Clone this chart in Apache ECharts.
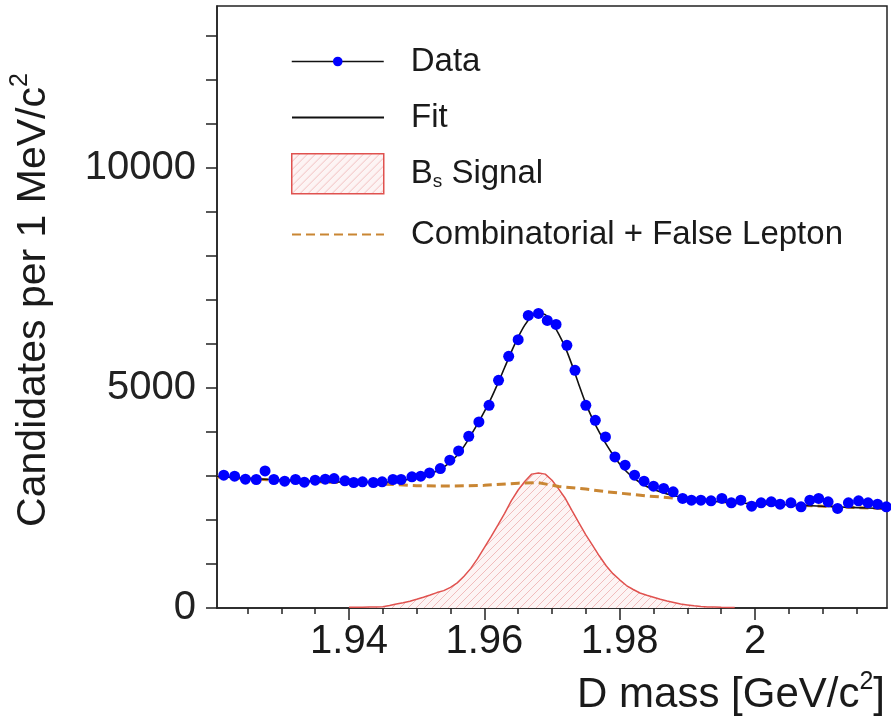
<!DOCTYPE html>
<html>
<head>
<meta charset="utf-8">
<script src="https://cdn.jsdelivr.net/npm/echarts@6/dist/echarts.min.js"></script>
<style>
html,body{margin:0;padding:0;background:#fff;}
#chart{width:891px;height:718px;}
</style>
</head>
<body>
<div id="chart"></div>
<script>
// ---- data ----
const dataMass = [1.9215,1.9231,1.9247,1.9263,1.9276,1.9289,1.9305,1.9321,1.9334,1.9350,1.9365,1.9378,1.9394,1.9407,1.9420,1.9436,1.9449,1.9465,1.9477,1.9493,1.9506,1.9519,1.9535,1.9549,1.9562,1.9577,1.9592,1.9607,1.9621,1.9636,1.9650,1.9665,1.9680,1.9693,1.9706,1.9722,1.9734,1.9750,1.9764,1.9779,1.9793,1.9808,1.9822,1.9836,1.9850,1.9865,1.9879,1.9893,1.9906,1.9920,1.9935,1.9951,1.9965,1.9979,1.9995,2.0009,2.0024,2.0037,2.0053,2.0068,2.0081,2.0094,2.0108,2.0122,2.0138,2.0153,2.0167,2.0181,2.0194];
const dataCounts = [3016,2993,2925,2918,3113,2918,2880,2918,2857,2902,2925,2940,2887,2850,2865,2850,2865,2918,2918,2978,2993,3068,3167,3356,3567,3900,4225,4603,5170,5714,6092,6644,6690,6530,6440,5964,5397,4603,4263,3885,3431,3243,3016,2880,2766,2714,2638,2487,2449,2449,2434,2487,2388,2449,2313,2388,2411,2358,2388,2297,2449,2487,2411,2260,2388,2434,2388,2358,2297];

const fitMass = [1.9205,1.925,1.930,1.935,1.940,1.944,1.947,1.950,1.952,1.953,1.954,1.955,1.956,1.957,1.958,1.959,1.960,1.961,1.962,1.963,1.964,1.965,1.966,1.967,1.968,1.969,1.970,1.971,1.972,1.973,1.974,1.975,1.976,1.977,1.978,1.979,1.980,1.981,1.982,1.983,1.984,1.985,1.987,1.989,1.991,1.994,1.997,2.000,2.005,2.010,2.015,2.0195];
const fitCounts = [2985,2945,2905,2875,2855,2850,2880,2960,3050,3110,3200,3320,3470,3670,3920,4180,4460,4760,5100,5460,5820,6150,6430,6620,6700,6660,6480,6220,5900,5500,5060,4640,4290,3990,3720,3480,3270,3100,2960,2850,2760,2690,2590,2520,2470,2420,2390,2370,2345,2310,2280,2255];

const bgMass = [1.9205,1.925,1.930,1.935,1.940,1.945,1.950,1.955,1.960,1.965,1.968,1.971,1.975,1.978,1.984,1.989,1.997,2.005,2.010,2.015,2.0195];
const bgCounts = [2975,2935,2900,2870,2840,2815,2775,2770,2785,2835,2845,2760,2700,2640,2545,2485,2390,2345,2310,2280,2255];

const sigMass = [1.940,1.941,1.942,1.943,1.944,1.945,1.946,1.947,1.948,1.949,1.950,1.951,1.952,1.953,1.954,1.955,1.956,1.957,1.958,1.959,1.960,1.961,1.962,1.963,1.964,1.965,1.966,1.967,1.968,1.969,1.970,1.971,1.972,1.973,1.974,1.975,1.976,1.977,1.978,1.979,1.980,1.981,1.982,1.983,1.984,1.985,1.986,1.987,1.988,1.989,1.990,1.991,1.992,1.993,1.994,1.995,1.996,1.997];
const sigCounts = [15,15,18,20,22,30,55,90,120,155,197,245,295,350,395,470,570,720,900,1120,1370,1620,1880,2150,2440,2680,2880,3040,3068,3040,2900,2700,2480,2200,1930,1660,1420,1180,960,780,640,510,420,340,290,245,200,160,125,90,70,50,35,25,20,15,12,10];

const xMajorTicks = [1.94, 1.96, 1.98, 2.00];
const xTickLabels = ['1.94', '1.96', '1.98', '2'];
const xMinorTicks = [1.925,1.930,1.935,1.945,1.950,1.955,1.965,1.970,1.975,1.985,1.990,1.995,2.005,2.010,2.015];
const yTicks = [0,1000,2000,3000,4000,5000,6000,7000,8000,9000,10000,11000,12000,13000];
const yLabelTicks = [0, 5000, 10000];
const seriesNames = ['Data', 'Fit', 'Bs Signal', 'Combinatorial + False Lepton'];

// ---- styling ----
const FONT = '"Liberation Sans", Arial, sans-serif';
const TXT = '#1a1a1a';
const RED = '#e0524f';
const ORANGE = '#c98633';

function hatch() {
  const c = document.createElement('canvas');
  c.width = 8; c.height = 8;
  const g = c.getContext('2d');
  g.fillStyle = '#fdf4f4';
  g.fillRect(0, 0, 8, 8);
  g.strokeStyle = '#f1bcbc';
  g.lineWidth = 1;
  g.beginPath();
  g.moveTo(0, 8); g.lineTo(8, 0);
  g.moveTo(-2, 2); g.lineTo(2, -2);
  g.moveTo(6, 10); g.lineTo(10, 6);
  g.stroke();
  return c;
}
const hatchPattern = { image: hatch(), repeat: 'repeat' };

const zip = (a, b) => a.map((v, i) => [v, b[i]]);
const yfmt = v => (yLabelTicks.indexOf(v) >= 0 ? String(v) : '');

const legendBase = {
  left: 286, orient: 'vertical', itemWidth: 92, selectedMode: false,
  textStyle: { fontSize: 33, fontFamily: FONT, color: TXT, padding: [0, 0, 0, 22],
    rich: { n: { fontSize: 33, fontFamily: FONT, color: TXT },
            sub: { fontSize: 19, fontFamily: FONT, color: TXT, padding: [16, 0, 0, 0] } } }
};

const option = {
  backgroundColor: '#ffffff',
  animation: false,
  grid: { left: 213, right: 4, top: 6, bottom: 110, show: true, borderColor: '#222', borderWidth: 1.5, backgroundColor: 'transparent' },
  legend: [
    Object.assign({}, legendBase, { top: 40, itemHeight: 12,
      data: [{ name: seriesNames[0], lineStyle: { color: '#111', width: 1.5, opacity: 1, type: 'solid' } }] }),
    Object.assign({}, legendBase, { top: 96, itemHeight: 12,
      data: [{ name: seriesNames[1], itemStyle: { opacity: 0 } }] }),
    Object.assign({}, legendBase, { top: 148, itemHeight: 40,
      formatter: () => '{n|B}{sub|s}{n| Signal}',
      data: [{ name: seriesNames[2], icon: 'rect',
        itemStyle: { color: hatchPattern, borderColor: RED, borderWidth: 1.5 } }] }),
    Object.assign({}, legendBase, { top: 213, itemHeight: 12,
      data: [{ name: seriesNames[3], itemStyle: { opacity: 0 } }] })
  ],
  xAxis: [
    {
      type: 'value', min: 1.9205, max: 2.0195, position: 'bottom',
      name: 'D mass [GeV/c{sup|2}]', nameLocation: 'end', nameGap: -2,
      nameTextStyle: { fontSize: 42, fontFamily: FONT, color: TXT, align: 'right', verticalAlign: 'top', padding: [62, 0, 0, 0],
        rich: { sup: { fontSize: 25, fontFamily: FONT, color: TXT, padding: [0, 0, 26, 0] } } },
      splitLine: { show: false },
      axisLine: { show: true, lineStyle: { color: '#222', width: 1.5 } },
      axisTick: { show: true, length: 12, customValues: xMajorTicks, lineStyle: { color: '#222', width: 1.5 } },
      axisLabel: { show: true, customValues: xMajorTicks, margin: 14, fontSize: 40, fontFamily: FONT, color: TXT,
        formatter: v => { const i = xMajorTicks.findIndex(t => Math.abs(t - v) < 1e-6); return i >= 0 ? xTickLabels[i] : ''; } }
    },
    {
      type: 'value', min: 1.9205, max: 2.0195, position: 'bottom',
      splitLine: { show: false },
      axisLine: { show: false },
      axisTick: { show: true, length: 6, customValues: xMinorTicks, lineStyle: { color: '#222', width: 1.5 } },
      axisLabel: { show: false }
    }
  ],
  yAxis: {
    type: 'value', min: 0, max: 13670,
    name: 'Candidates per 1 MeV/c{sup|2}', nameLocation: 'middle', nameGap: 158,
    nameTextStyle: { fontSize: 41, fontFamily: FONT, color: TXT, padding: [0, 0, 0, 14],
      rich: { sup: { fontSize: 25, fontFamily: FONT, color: TXT, padding: [0, 0, 26, 0] } } },
    splitLine: { show: false },
    axisLine: { show: true, lineStyle: { color: '#222', width: 1.5 } },
    axisTick: { show: true, length: 11, customValues: yTicks, lineStyle: { color: '#222', width: 1.5 } },
    axisLabel: { show: true, customValues: yLabelTicks, margin: 21, fontSize: 40, fontFamily: FONT, color: '#222', formatter: yfmt }
  },
  series: [
    {
      name: seriesNames[2], type: 'line', data: zip(sigMass, sigCounts),
      symbol: 'none', z: 1,
      lineStyle: { color: RED, width: 1.5 },
      itemStyle: { color: RED },
      areaStyle: { color: hatchPattern, opacity: 1, origin: 'start' }
    },
    {
      name: seriesNames[3], type: 'line', data: zip(bgMass, bgCounts), symbol: 'none', z: 2,
      lineStyle: { color: ORANGE, width: 3, type: [9, 5] },
      itemStyle: { color: ORANGE }
    },
    {
      name: seriesNames[1], type: 'line', data: zip(fitMass, fitCounts), symbol: 'none', smooth: 0.35, z: 3,
      lineStyle: { color: '#111', width: 1.6 },
      itemStyle: { color: '#111' }
    },
    {
      name: seriesNames[0], type: 'line', data: zip(dataMass, dataCounts), z: 4,
      symbol: 'circle', symbolSize: 11, showSymbol: true,
      lineStyle: { opacity: 0, width: 0 },
      itemStyle: { color: '#0000ff' }
    }
  ]
};

const chart = echarts.init(document.getElementById('chart'), null, { renderer: 'canvas' });
chart.setOption(option);
</script>
</body>
</html>
